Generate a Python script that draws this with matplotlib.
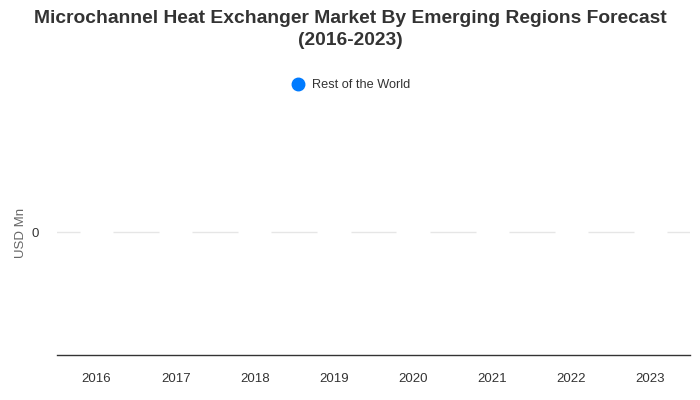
import numpy as np
import matplotlib.pyplot as plt

years = ["2016", "2017", "2018", "2019", "2020", "2021", "2022", "2023"]
rest_of_world = [0, 0, 0, 0, 0, 0, 0, 0]

plt.rcParams['font.family'] = ['Liberation Sans', 'DejaVu Sans']

fig = plt.figure(figsize=(7, 4), dpi=100)
ax = fig.add_axes([57/700, 45/400, 633/700, 245/400])

x = np.arange(len(years))
ax.axhline(0, color='#e6e6e6', lw=1, zorder=0)
ax.bar(x, rest_of_world, width=0.42, color='#007bff', edgecolor='white', lw=2.5,
       label='Rest of the World', zorder=2)

ax.set_xlim(-0.5, len(years) - 0.5)
ax.set_ylim(-1, 1)
ax.set_xticks(x)
ax.set_xticklabels(years)
ax.set_yticks([0])
ax.tick_params(axis='both', length=0, labelsize=9.5, colors='#333333')
ax.tick_params(axis='x', pad=13)
ax.tick_params(axis='y', pad=13)
for s in ['top', 'right', 'left']:
    ax.spines[s].set_visible(False)
ax.spines['bottom'].set_color('#333333')
ax.spines['bottom'].set_linewidth(1)
ax.set_ylabel('USD Mn', fontsize=9.5, color='#666666', labelpad=0)
ax.yaxis.set_label_coords(-0.047, 0.5)

fig.text(0.5, 0.974, "Microchannel Heat Exchanger Market By Emerging Regions Forecast\n(2016-2023)",
         ha='center', va='top', fontsize=13.9, fontweight='bold', color='#333333',
         linespacing=1.36)

fig.legend(handles=[plt.Line2D([], [], marker='o', ls='', color='#007bff', markersize=9)],
           labels=['Rest of the World'], loc='center', bbox_to_anchor=(0.497, 0.787),
           frameon=False, fontsize=9.2, handletextpad=0.1, labelcolor='#333333')

fig.savefig('out.png', dpi=100)
